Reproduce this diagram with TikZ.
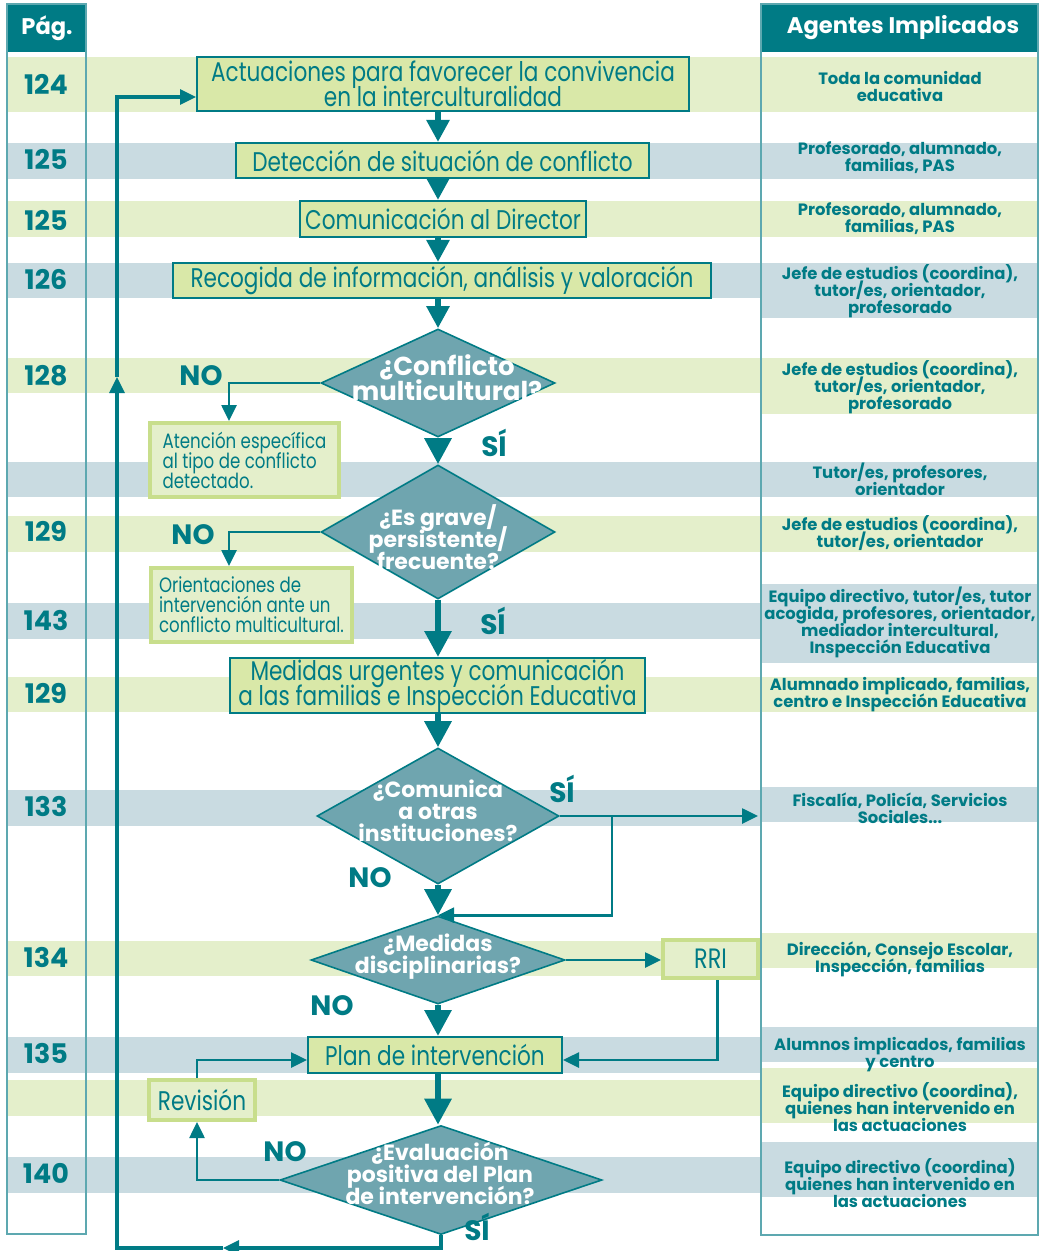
\documentclass[tikz,border=0pt]{standalone}
\usepackage{fontspec}
\setmainfont{Poppins}
\newfontfamily\condfont[FakeStretch=0.8]{Poppins}
\usetikzlibrary{arrows.meta,shapes.geometric}

\definecolor{petrol}{HTML}{007B85}
\definecolor{bandgreen}{HTML}{E4EFCB}
\definecolor{bandblue}{HTML}{C9DBE1}
\definecolor{boxgreen}{HTML}{D9E8A8}
\definecolor{askfill}{HTML}{6FA5AF}
\definecolor{sideline}{HTML}{C8DE8C}
\definecolor{frameline}{HTML}{5DA8B0}

\newcommand\tightlines{\lineskiplimit-8pt\relax}

\tikzset{
  stepbox/.style={draw=petrol, line width=1pt, fill=boxgreen, text=petrol, inner sep=0pt,
    align=center, font=\condfont\fontsize{13.5}{12.5}\selectfont\tightlines},
  sidebox/.style={draw=sideline, line width=2pt, fill=bandgreen, text=petrol, inner sep=0pt,
    align=left, font=\condfont\fontsize{10.4}{10}\selectfont\tightlines},
  ask/.style={diamond, draw=petrol, line width=0.8pt, fill=askfill, inner sep=0pt},
  asktext/.style={text=white, align=center, inner sep=0pt,
    font=\bfseries\fontsize{11}{11}\selectfont\tightlines},
  yesno/.style={text=petrol, inner sep=0pt, font=\bfseries\fontsize{14}{14}\selectfont},
  pagenum/.style={text=petrol, inner sep=0pt, font=\bfseries\fontsize{13.5}{13.5}\selectfont},
  agent/.style={text=petrol, align=center, inner sep=0pt,
    font=\bfseries\fontsize{8.2}{8.5}\selectfont\tightlines},
  headtext/.style={text=white, inner sep=0pt, font=\bfseries\fontsize{11.3}{11.3}\selectfont},
  frame/.style={draw=frameline, line width=0.8pt},
  flow/.style={draw=petrol, line width=3pt, -{Triangle[width=11pt,length=11pt]}},
  bigflow/.style={draw=petrol, line width=3pt, -{Triangle[width=13pt,length=13pt]}},
  branch/.style={draw=petrol, line width=1.3pt, -{Triangle[width=7.5pt,length=8pt]}},
  backline/.style={draw=petrol, line width=1.6pt, -{Triangle[width=7.5pt,length=8pt]}}
}

\begin{document}
\begin{tikzpicture}[x=0.5pt,y=-0.5pt]
\useasboundingbox (0,0) rectangle (1040,1251);

\fill[bandgreen] (7,57) rectangle (760,112);
\fill[bandgreen] (762,57) rectangle (1037,112);
\fill[bandblue] (7,143) rectangle (760,179);
\fill[bandblue] (762,143) rectangle (1037,179);
\fill[bandgreen] (7,201) rectangle (760,237);
\fill[bandgreen] (762,201) rectangle (1037,237);
\fill[bandblue] (7,263) rectangle (760,298);
\fill[bandblue] (762,263) rectangle (1037,318);
\fill[bandgreen] (7,358) rectangle (760,393);
\fill[bandgreen] (762,358) rectangle (1037,414);
\fill[bandblue] (7,462) rectangle (760,497);
\fill[bandblue] (762,462) rectangle (1037,497);
\fill[bandgreen] (7,516) rectangle (760,552);
\fill[bandgreen] (762,516) rectangle (1037,552);
\fill[bandblue] (7,603) rectangle (760,639);
\fill[bandblue] (762,584) rectangle (1037,663);
\fill[bandgreen] (7,677) rectangle (760,712);
\fill[bandgreen] (762,677) rectangle (1037,712);
\fill[bandblue] (7,790) rectangle (760,826);
\fill[bandblue] (762,787) rectangle (1037,822);
\fill[bandgreen] (7,941) rectangle (760,976);
\fill[bandgreen] (762,933) rectangle (1037,968);
\fill[bandblue] (7,1037) rectangle (760,1073);
\fill[bandblue] (762,1027) rectangle (1037,1062);
\fill[bandgreen] (7,1080) rectangle (760,1116);
\fill[bandgreen] (762,1068) rectangle (1037,1123);
\fill[bandblue] (7,1157) rectangle (760,1193);
\fill[bandblue] (762,1142) rectangle (1037,1197);

\fill[petrol] (7,4) rectangle (86,52);
\fill[petrol] (761,4) rectangle (1038,52);
\draw[frame] (7,4) rectangle (86,1234);
\draw[frame] (761,4) rectangle (1038,1235);
\node[headtext] (hpag) at (47,28) {Pág.};
\node[headtext] (hagt) at (903,28) {Agentes Implicados};

\node[pagenum] (p124) at (46,84) {124};
\node[pagenum] (p125a) at (46,159) {125};
\node[pagenum] (p125b) at (46,220) {125};
\node[pagenum] (p126) at (46,279) {126};
\node[pagenum] (p128) at (46,376) {128};
\node[pagenum] (p129a) at (46,531) {129};
\node[pagenum] (p143) at (46,620) {143};
\node[pagenum] (p129b) at (46,693) {129};
\node[pagenum] (p133) at (46,806) {133};
\node[pagenum] (p134) at (46,957) {134};
\node[pagenum] (p135) at (46,1053) {135};
\node[pagenum] (p140) at (46,1173) {140};

\node[agent] (g1) at (900,87) {Toda la comunidad\\educativa};
\node[agent] (g2) at (900,158) {Profesorado, alumnado,\\familias, PAS};
\node[agent] (g3) at (900,219) {Profesorado, alumnado,\\familias, PAS};
\node[agent] (g4) at (900,291) {Jefe de estudios (coordina),\\tutor/es, orientador,\\profesorado};
\node[agent] (g5) at (900,387) {Jefe de estudios (coordina),\\tutor/es, orientador,\\profesorado};
\node[agent] (g6) at (900,479) {Tutor/es, profesores,\\orientador};
\node[agent] (g7) at (900,533) {Jefe de estudios (coordina),\\tutor/es, orientador};
\node[agent] (g8) at (900,622) {Equipo directivo, tutor/es, tutor\\acogida, profesores, orientador,\\mediador intercultural,\\Inspección Educativa};
\node[agent] (g9) at (900,695) {Alumnado implicado, familias,\\centro e Inspección Educativa};
\node[agent] (g10) at (900,808) {Fiscalía, Policía, Servicios\\Sociales...};
\node[agent] (g11) at (900,959) {Dirección, Consejo Escolar,\\Inspección, familias};
\node[agent] (g12) at (900,1055) {Alumnos implicados, familias\\y centro};
\node[agent] (g13) at (900,1107) {Equipo directivo (coordina),\\quienes han intervenido en\\las actuaciones};
\node[agent] (g14) at (900,1183) {Equipo directivo (coordina)\\quienes han intervenido en\\las actuaciones};

\node[stepbox, minimum width=246pt, minimum height=27pt] (act) at (443,84) {Actuaciones para favorecer la convivencia\\en la interculturalidad};
\node[stepbox, minimum width=206.5pt, minimum height=17.5pt] (det) at (442.5,160.5) {Detección de situación de conflicto};
\node[stepbox, minimum width=143pt, minimum height=18pt] (com) at (443,219) {Comunicación al Director};
\node[stepbox, minimum width=269pt, minimum height=17.5pt] (rec) at (442,280.5) {Recogida de información, análisis y valoración};
\node[ask, minimum width=117pt, minimum height=54pt] (d1) at (438,383) {};
\node[asktext, font=\bfseries\fontsize{13}{12.5}\selectfont\tightlines] (d1t) at (447,378) {¿Conflicto\\multicultural?};
\node[sidebox, minimum width=94.5pt, minimum height=37pt] (aten) at (244.5,460) {Atención específica\\al tipo de conflicto\\detectado.};
\node[ask, minimum width=117pt, minimum height=67pt] (d2) at (438,532) {};
\node[asktext] (d2t) at (438,537) {¿Es grave/\\persistente/\\frecuente?};
\node[sidebox, minimum width=100.5pt, minimum height=37pt] (orient) at (251.5,605) {Orientaciones de\\intervención ante un\\conflicto multicultural.};
\node[stepbox, minimum width=207.5pt, minimum height=27.5pt] (med) at (437.5,685.5) {Medidas urgentes y comunicación\\a las familias e Inspección Educativa};
\node[ask, minimum width=121pt, minimum height=68pt] (d3) at (438,816) {};
\node[asktext] (d3t) at (438,811) {¿Comunica\\a otras\\instituciones?};
\node[ask, minimum width=127pt, minimum height=44pt] (d4) at (438,960) {};
\node[asktext] (d4t) at (438,957) {¿Medidas\\disciplinarias?};
\node[sidebox, minimum width=47.5pt, minimum height=19pt, font=\condfont\fontsize{14}{14}\selectfont] (rri) at (710.5,959) {RRI};
\node[stepbox, minimum width=127pt, minimum height=18pt] (plan) at (435,1055) {Plan de intervención};
\node[sidebox, minimum width=53pt, minimum height=20pt, font=\condfont\fontsize{13.5}{13.5}\selectfont] (rev) at (202,1100) {Revisión};
\node[ask, minimum width=161pt, minimum height=54.5pt] (d5) at (441,1180) {};
\node[asktext] (d5t) at (440,1173) {¿Evaluación\\positiva del Plan\\de intervención?};

\node[yesno] (no1) at (201,376) {NO};
\node[yesno] (si1) at (494,443) {SÍ};
\node[yesno] (no2) at (193,535) {NO};
\node[yesno] (si2) at (493,621) {SÍ};
\node[yesno] (si3) at (562,789) {SÍ};
\node[yesno] (no3) at (370,878) {NO};
\node[yesno] (no4) at (332,1006) {NO};
\node[yesno] (no5) at (285,1152) {NO};
\node[yesno] (si5) at (477,1227) {SÍ};

\coordinate (jn) at (612,816);
\coordinate (fisc) at (758,816);
\coordinate (lpa) at (223,1248);
\coordinate (lpb) at (117,1248);
\coordinate (lpc) at (117,377);
\coordinate (lpd) at (117,97);

\draw[flow] (d1.north |- act.south) -- (d1.north |- det.north);
\draw[flow] (d1.north |- det.south) -- (d1.north |- com.north);
\draw[flow] (d1.north |- com.south) -- (d1.north |- rec.north);
\draw[flow] (d1.north |- rec.south) -- (d1.north);
\draw[bigflow] (d1.south) -- (d2.north);
\draw[bigflow] (d2.south) -- (d2.south |- med.north);
\draw[bigflow] (d2.south |- med.south) -- (d3.north);
\draw[bigflow] (d3.south) -- (d4.north);
\draw[bigflow] (d4.south) -- (d4.south |- plan.north);
\draw[bigflow] (d4.south |- plan.south) -- (d4.south |- d5.north);
\draw[branch] (d1.west) -| ([xshift=-7.75pt]aten.north);
\draw[branch] (d2.west) -| ([xshift=-11.25pt]orient.north);
\draw[branch] (d3.east) -- (fisc);
\draw[branch] (jn) |- (d4.north);
\draw[branch] (d4.east) -- (d4.east -| rri.west);
\draw[branch] ([xshift=3.5pt]rri.south) |- ([yshift=-2.5pt]plan.east);
\draw[branch] (d5.west) -| ([xshift=-2.5pt]rev.south);
\draw[branch] ([xshift=-2.5pt]rev.north) |- ([yshift=-2.5pt]plan.west);
\draw[backline] (d5.south) |- (lpa);
\draw[backline] (lpa) -- (lpb) -- (lpc);
\draw[backline] (lpc) -- (lpd) -- (lpd -| act.west);
\end{tikzpicture}
\end{document}
